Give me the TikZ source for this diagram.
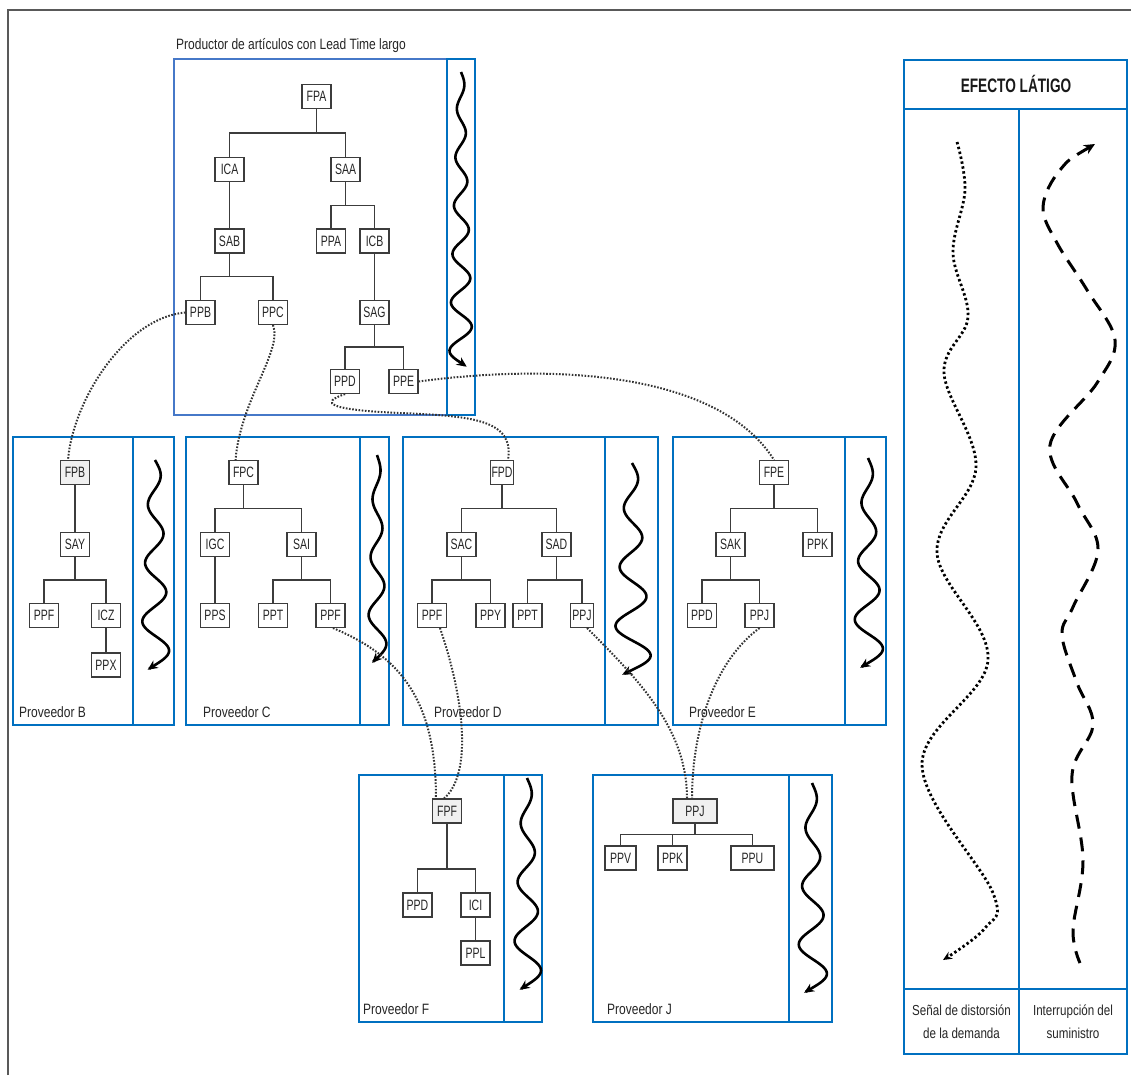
\documentclass[tikz,border=0pt]{standalone}
\usepackage{fontspec}
\setmainfont{Liberation Sans}[FakeStretch=0.8]
\newfontfamily\headfont{Liberation Sans}[FakeStretch=0.7]
\newfontfamily\boxfont{Liberation Sans}[FakeStretch=0.7]
\usetikzlibrary{arrows.meta,calc}
\definecolor{blueC}{RGB}{0,112,192}
\definecolor{blueL}{RGB}{70,120,200}
\definecolor{gfill}{RGB}{240,240,240}
\definecolor{edgec}{RGB}{60,60,60}
\newcommand\branch[3][.5]{\draw[tr] (#2.south) |- ($(#2.south)!#1!(#3.north)$) -| (#3.north);}
\newcommand\whiparrow[6]{\draw[whipline] plot[domain=0:1, samples=200, variable=\t] ({#1+(#5+(#6-#5)*\t)*sin(\t*#4*180)}, {#2+\t*(#3-#2)});}
\begin{document}
\begin{tikzpicture}[x=1pt,y=-1pt,
  bx/.style={draw=edgec, line width=1.1pt, fill=white, minimum width=29pt, minimum height=24pt, inner sep=1pt, text=black!85, font=\boxfont\fontsize{15}{17}\selectfont},
  gbx/.style={bx, fill=gfill},
  tr/.style={draw=edgec, line width=1.1pt},
  frame/.style={draw=blueC, line width=2.8pt},
  conn/.style={draw=black!80, line width=2pt, dash pattern=on 1.6pt off 1.6pt},
  whipline/.style={draw=black, line width=2.6pt, -{Stealth[length=10pt,width=9pt]}},
  lbl/.style={anchor=west, inner sep=0pt, text=black!85, font=\fontsize{15}{18}\selectfont}]
\useasboundingbox (0,0) rectangle (1131,1075);
\fill[white] (0,0) rectangle (1131,1075);
\draw[black!65, line width=1.6pt] (8,1075) -- (8,10) -- (1131,10);

% ---------- frames ----------
\draw[draw=blueL, line width=2.8pt] (174,59) rectangle (447,415);
\draw[frame] (447,59) rectangle (475,415);
\draw[frame] (13,437) rectangle (174,725);  \draw[frame] (133,437) -- (133,725);
\draw[frame] (186,437) rectangle (389,725); \draw[frame] (360,437) -- (360,725);
\draw[frame] (403,437) rectangle (658,725); \draw[frame] (605,437) -- (605,725);
\draw[frame] (673,437) rectangle (886,725); \draw[frame] (845,437) -- (845,725);
\draw[frame] (359,775) rectangle (542,1022); \draw[frame] (504,775) -- (504,1022);
\draw[frame] (593,775) rectangle (832,1022); \draw[frame] (789,775) -- (789,1022);

% ---------- labels ----------
\node[lbl] (title) at (176,46) {Productor de artículos con Lead Time largo};
\node[lbl] (lB) at (19,712) {Proveedor B};
\node[lbl] (lC) at (203,712) {Proveedor C};
\node[lbl] (lD) at (434,712) {Proveedor D};
\node[lbl] (lE) at (689,712) {Proveedor E};
\node[lbl] (lF) at (363,1009) {Proveedor F};
\node[lbl] (lJ) at (607,1009) {Proveedor J};

% ---------- top tree ----------
\node[bx] (aFPA) at (316.5,96.5) {FPA};
\node[bx] (aICA) at (229.5,169.5) {ICA};
\node[bx] (aSAA) at (345.5,169.5) {SAA};
\node[bx] (aSAB) at (229.5,241) {SAB};
\node[bx] (aPPA) at (331,241) {PPA};
\node[bx] (aICB) at (374.5,241) {ICB};
\node[bx] (aPPB) at (200.5,312.5) {PPB};
\node[bx] (aPPC) at (273,312.5) {PPC};
\node[bx] (aSAG) at (374.5,312.5) {SAG};
\node[bx] (aPPD) at (345,381.5) {PPD};
\node[bx] (aPPE) at (403.5,381.5) {PPE};
\branch{aFPA}{aICA} \branch{aFPA}{aSAA}
\branch{aICA}{aSAB}
\branch{aSAA}{aPPA} \branch{aSAA}{aICB}
\branch{aSAB}{aPPB} \branch{aSAB}{aPPC}
\branch{aICB}{aSAG}
\branch{aSAG}{aPPD} \branch{aSAG}{aPPE}

% ---------- B ----------
\node[gbx] (bFPB) at (75,472.5) {FPB};
\node[bx] (bSAY) at (75,544.5) {SAY};
\node[bx] (bPPF) at (44,615.5) {PPF};
\node[bx] (bICZ) at (106,615.5) {ICZ};
\node[bx] (bPPX) at (106,665) {PPX};
\branch{bFPB}{bSAY}
\branch{bSAY}{bPPF} \branch{bSAY}{bICZ}
\branch{bICZ}{bPPX}

% ---------- C ----------
\node[bx] (cFPC) at (243.5,472.5) {FPC};
\node[bx] (cIGC) at (215,544.5) {IGC};
\node[bx] (cSAI) at (301.5,544.5) {SAI};
\node[bx] (cPPS) at (215,615.5) {PPS};
\node[bx] (cPPT) at (273,615.5) {PPT};
\node[bx] (cPPF) at (330.5,615.5) {PPF};
\branch{cFPC}{cIGC} \branch{cFPC}{cSAI}
\branch{cIGC}{cPPS}
\branch{cSAI}{cPPT} \branch{cSAI}{cPPF}

% ---------- D ----------
\node[bx, minimum width=23pt] (dFPD) at (502,472.5) {FPD};
\node[bx] (dSAC) at (461.5,544.5) {SAC};
\node[bx] (dSAD) at (556.5,544.5) {SAD};
\node[bx] (dPPF) at (432,615.5) {PPF};
\node[bx] (dPPY) at (490.5,615.5) {PPY};
\node[bx] (dPPT) at (527.5,615.5) {PPT};
\node[bx, minimum width=23pt] (dPPJ) at (582,615.5) {PPJ};
\branch{dFPD}{dSAC} \branch{dFPD}{dSAD}
\branch{dSAC}{dPPF} \branch{dSAC}{dPPY}
\branch{dSAD}{dPPT} \branch{dSAD}{dPPJ}

% ---------- E ----------
\node[bx] (eFPE) at (774,472.5) {FPE};
\node[bx] (eSAK) at (730.5,544.5) {SAK};
\node[bx] (ePPK) at (817.5,544.5) {PPK};
\node[bx] (ePPD) at (702,615.5) {PPD};
\node[bx] (ePPJ) at (759.5,615.5) {PPJ};
\branch{eFPE}{eSAK} \branch{eFPE}{ePPK}
\branch{eSAK}{ePPD} \branch{eSAK}{ePPJ}

% ---------- F ----------
\node[gbx] (fFPF) at (447,811) {FPF};
\node[bx] (fPPD) at (417.5,905) {PPD};
\node[bx] (fICI) at (475.5,905) {ICI};
\node[bx] (fPPL) at (475.5,953) {PPL};
\branch[.66]{fFPF}{fPPD} \branch[.66]{fFPF}{fICI}
\branch{fICI}{fPPL}

% ---------- J ----------
\node[gbx, minimum width=44pt] (jPPJ) at (695,811) {PPJ};
\node[bx, minimum width=31pt] (jPPV) at (620.5,858) {PPV};
\node[bx] (jPPK) at (672.5,858) {PPK};
\node[bx, minimum width=43pt] (jPPU) at (752.5,858) {PPU};
\branch{jPPJ}{jPPV} \branch{jPPJ}{jPPK} \branch{jPPJ}{jPPU}

% ---------- whip arrows ----------
\whiparrow{461}{72}{367}{12.17}{3}{12}
\whiparrow{155}{460}{670}{7.17}{5}{15}
\whiparrow{377}{455}{663}{7.17}{3}{10}
\whiparrow{632}{463}{675}{7.17}{5}{20}
\whiparrow{868}{458}{668}{7.17}{4}{16}
\whiparrow{527}{778}{990}{7.17}{4}{15}
\whiparrow{812}{783}{993}{7.17}{4}{16}

% ---------- dotted connectors ----------
\coordinate (v3) at (400,413);
\draw[conn] (aPPB.west) .. controls +(-60,5) and +(5,-60) .. ($(bFPB.north)+(-7,0)$);
\draw[conn] (aPPC.south) .. controls +(10,25) and +(5,-60) .. ($(cFPC.north)+(-8,0)$);
\draw[conn] (aPPD.south) .. controls +(-27,9) and +(-70,-3) .. (v3) .. controls +(70,3) and +(7,-41) .. ($(dFPD.north)+(6,0)$);
\draw[conn] (aPPE.east) .. controls +(142,-19) and +(-54,-86) .. (eFPE.north);
\draw[conn] ($(cPPF.south)+(2.5,0)$) .. controls +(67,28) and +(0,-99) .. ($(fFPF.north)+(-11,0)$);
\draw[conn] ($(dPPF.south)+(8,0)$) .. controls +(25,73) and +(28,-24) .. ($(fFPF.north)+(-3,0)$);
\draw[conn] ($(dPPJ.south)+(5,0)$) .. controls +(53,53) and +(0,-69) .. ($(jPPJ.north)+(-8,0)$);
\draw[conn] (ePPJ.south) .. controls +(-45,33) and +(0,-69) .. ($(jPPJ.north)+(-3,0)$);

% ---------- legend ----------
\draw[frame] (904,60) rectangle (1127,1054);
\draw[frame] (904,109) -- (1127,109);
\draw[frame] (904,989) -- (1127,989);
\draw[frame] (1019,109) -- (1019,1054);
\node[inner sep=0pt, text=black!90, font=\headfont\bfseries\fontsize{19.5}{22}\selectfont] (head) at (1016,84) {EFECTO LÁTIGO};
\node[align=center, inner sep=0pt, text=black!85, font=\fontsize{14.5}{23}\selectfont] (f1) at (961.5,1021.5) {Señal de distorsión\\de la demanda};
\node[align=center, inner sep=0pt, text=black!85, font=\fontsize{14.5}{23}\selectfont] (f2) at (1073,1021.5) {Interrupción del\\suministro};
\draw[line width=2.8pt, dash pattern=on 2.4pt off 2.6pt, -{Stealth[length=9pt,width=8pt]}] plot[smooth, tension=0.6] coordinates {(957,142) (965,190) (953,253) (968,317) (944,373) (976,467) (937,553) (988,660) (922,765) (993,893) (985,928) (943,960)};
\draw[line width=3pt, dash pattern=on 14pt off 9pt, {Stealth[length=11pt,width=10pt]}-] plot[smooth, tension=0.6] coordinates {(1095,144) (1060,170) (1043,207) (1057,243) (1087,290) (1115,340) (1097,383) (1050,445) (1077,503) (1098,550) (1073,607) (1062,635) (1077,683) (1093,725) (1072,775) (1083,860) (1073,930) (1080,963)};
\end{tikzpicture}
\end{document}
